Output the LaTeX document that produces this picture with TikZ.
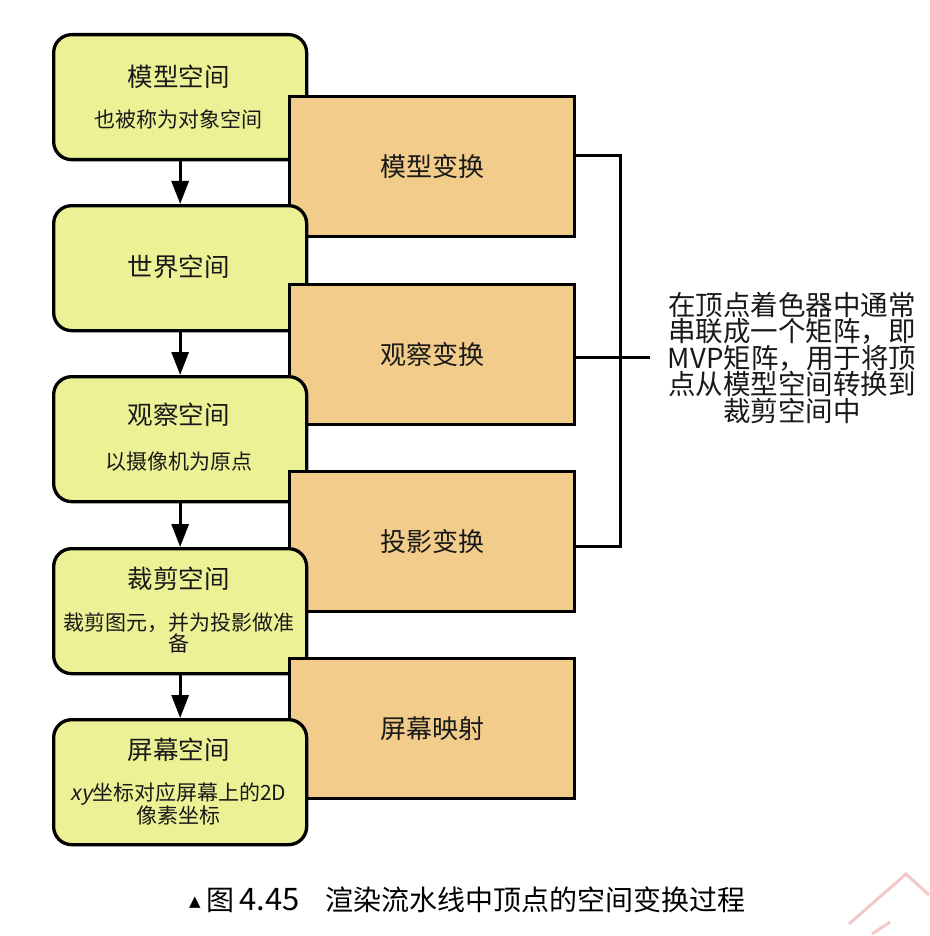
\documentclass[tikz,border=0pt]{standalone}
\usepackage{fontspec}
\setmainfont{Noto Sans CJK SC}
\newfontfamily\slfont[FakeSlant=0.2]{Noto Sans CJK SC}
\newfontfamily\symfont{DejaVu Sans}
\usetikzlibrary{arrows.meta}
\definecolor{gfill}{RGB}{237,241,150}
\definecolor{ofill}{RGB}{242,204,138}
\definecolor{ink}{RGB}{25,25,25}
\definecolor{wm}{RGB}{244,200,200}
\tikzset{
 gbox/.style={draw=black, line width=3.3pt, fill=gfill, rounded corners=18pt, minimum width=253pt, minimum height=125pt, anchor=north west, inner sep=0pt},
 obox/.style={draw=black, line width=3.3pt, fill=ofill, minimum width=285pt, minimum height=140pt, anchor=north west, inner sep=0pt, text=ink, font=\fontsize{26}{26}\selectfont},
 ttl/.style={text=ink, font=\fontsize{25.5}{26}\selectfont, inner sep=0pt},
 subt/.style={text=ink, font=\fontsize{21}{21.5}\selectfont, inner sep=0pt, align=center},
 arr/.style={line width=3pt, -{Triangle[length=23pt,width=17pt]}},
 brk/.style={line width=3pt},
 capt/.style={anchor=west, inner sep=0pt, text=black},
}
\begin{document}
\begin{tikzpicture}[x=1pt,y=-1pt]
\useasboundingbox[fill=white] (0,0) rectangle (929,936);
% pair 1
\node[gbox] (g1) at (52,33) {};
\node[ttl] (g1t) at (178.5,77) {模型空间};
\node[subt] (g1s) at (178.5,119) {也被称为对象空间};
\node[obox] (o1) at (288,95) {模型变换};
% pair 2
\node[gbox] (g2) at (52,204) {};
\node[ttl] (g2t) at (178.5,267) {世界空间};
\node[obox] (o2) at (288,283) {观察变换};
% pair 3
\node[gbox] (g3) at (52,375) {};
\node[ttl] (g3t) at (178.5,415) {观察空间};
\node[subt] (g3s) at (178.5,462) {以摄像机为原点};
\node[obox] (o3) at (288,470) {投影变换};
% pair 4
\node[gbox] (g4) at (52,547) {};
\node[ttl] (g4t) at (178.5,579) {裁剪空间};
\node[subt] (g4s) at (178.5,633) {裁剪图元，并为投影做准\\备};
\node[obox] (o4) at (288,657) {屏幕映射};
% box 5
\node[gbox] (g5) at (52,718) {};
\node[ttl] (g5t) at (178.5,750) {屏幕空间};
\node[subt] (g5s) at (178.5,804) {{\slfont xy}坐标对应屏幕上的2D\\像素坐标};
% arrows
\draw[arr] (g1.south) -- (g2.north);
\draw[arr] (g2.south) -- (g3.north);
\draw[arr] (g3.south) -- (g4.north);
\draw[arr] (g4.south) -- (g5.north);
% bracket
\coordinate (bt) at (620,156);
\coordinate (bb) at (620,546);
\coordinate (bm) at (620,357);
\coordinate (bme) at (650,357);
\draw[brk] (o1.east |- bt) -- (bt) -- (bb) -- (o3.east |- bb);
\draw[brk] (o2.east |- bm) -- (bme);
\node[text=ink, font=\fontsize{27.5}{26.5}\selectfont, align=center, inner sep=0pt] (note) at (792,358)
 {在顶点着色器中通常\\串联成一个矩阵，即\\MVP矩阵，用于将顶\\点从模型空间转换到\\裁剪空间中};
% caption
\node[capt, font=\symfont\fontsize{15}{15}\selectfont] (cap0) at (189,903) {▲};
\node[capt, font=\fontsize{28}{28}\selectfont] (cap1) at (206,900) {图};
\node[capt, font=\fontsize{31}{31}\selectfont] (cap1b) at (239,900) {4.45};
\node[capt, font=\fontsize{28}{28}\selectfont] (cap2) at (325,900) {渲染流水线中顶点的空间变换过程};
% watermark
\draw[wm, line width=3pt] (849,924) -- (906,874) -- (929,895);
\draw[wm, line width=3pt] (872,934) -- (890,922);
\end{tikzpicture}
\end{document}
